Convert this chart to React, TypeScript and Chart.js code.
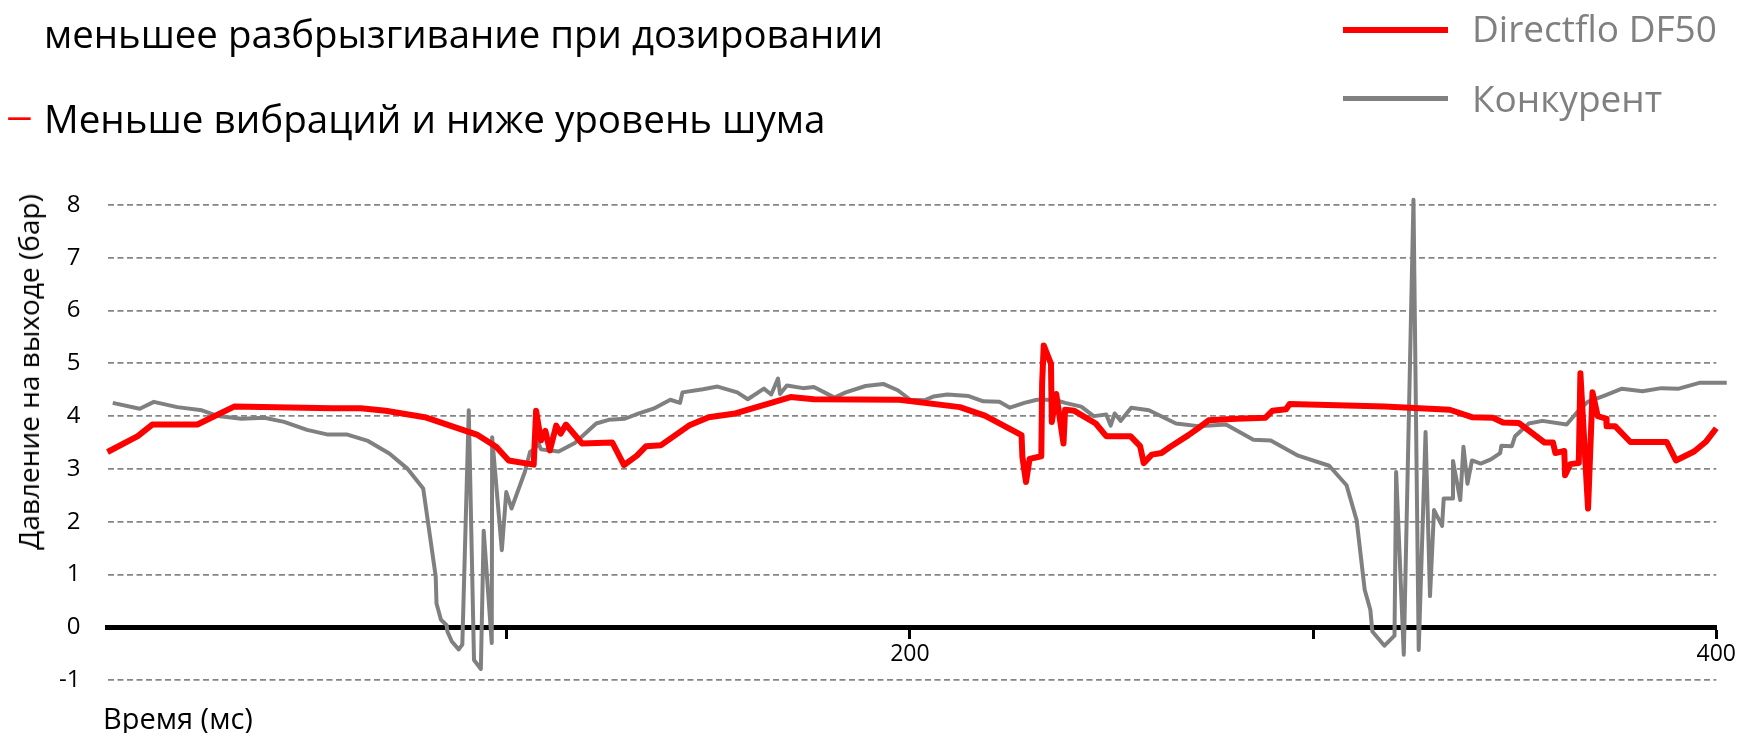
import React, { useEffect, useRef } from 'react';
import { Chart, registerables } from 'chart.js';

Chart.register(...registerables);

// ---- data ----
const seriesNames = ['Directflo DF50', 'Конкурент'];
const seriesColors = ['#ff0000', '#808080'];

const directfloX = [
  1, 8.5, 12.1, 23.3, 32.4, 56.7, 63.8, 70.0, 79.7, 92.6, 97.4, 100.5, 106.7, 107.3, 108.5, 109.6,
  110.7, 112.3, 113.4, 114.7, 118.7, 126.2, 129.1, 132.3, 134.6, 138.3, 145.2, 150.1, 156.7, 165.6,
  170.4, 176.2, 197.4, 212.4, 218.6, 227.7, 227.9, 228.8, 229.7, 232.6, 232.8, 233.2, 235.0, 235.2,
  236.3, 238.1, 238.5, 240.8, 246.1, 248.7, 254.7, 257.1, 258.0, 260.0, 262.4, 264.6, 269.1, 271.5,
  274.1, 280.9, 288.2, 289.9, 293.3, 294.2, 317.7, 333.9, 339.4, 344.6, 347.1, 351.0, 357.4, 359.5,
  360.1, 362.3, 362.5, 363.8, 365.9, 366.3, 368.2, 369.3, 370.6, 372.7, 372.8, 374.9, 378.7, 387.7,
  390.0, 394.5, 397.5, 400.0,
];
const directfloY = [
  3.32, 3.62, 3.84, 3.84, 4.18, 4.15, 4.15, 4.10, 3.98, 3.65, 3.42, 3.16, 3.08, 4.10, 3.54, 3.72,
  3.35, 3.82, 3.67, 3.84, 3.48, 3.50, 3.07, 3.25, 3.43, 3.45, 3.82, 3.98, 4.05, 4.25,
  4.36, 4.32, 4.31, 4.17, 4.01, 3.64, 3.23, 2.75, 3.19, 3.24, 4.61, 5.34, 4.99, 3.89,
  4.42, 3.48, 4.12, 4.10, 3.86, 3.62, 3.62, 3.43, 3.11, 3.27, 3.30, 3.42, 3.64, 3.77,
  3.92, 3.95, 3.97, 4.10, 4.13, 4.23, 4.18, 4.12, 3.98, 3.97, 3.88, 3.87, 3.50, 3.50,
  3.30, 3.34, 2.88, 3.09, 3.11, 4.81, 2.25, 4.45, 4.00, 3.95, 3.81, 3.81, 3.51, 3.51,
  3.16, 3.33, 3.52, 3.77,
];

const competitorX = [
  2.3, 9.0, 12.5, 18.3, 24.4, 28.4, 34.2, 39.9, 44.8, 50.5, 55.7, 60.5, 65.6, 70.9, 75.3, 79.3,
  82.4, 82.6, 83.7, 85.1, 85.3, 86.4, 88.1, 89.0, 90.6, 91.9, 93.6, 94.3, 96.3, 96.4, 98.8, 99.9,
  101.2, 104.5, 105.8, 107.0, 107.8, 108.5, 112.9, 116.9, 122.2, 125.3, 129.3, 132.8, 136.4, 140.6,
  143.0, 143.6, 148.7, 152.3, 157.2, 159.8, 163.8, 165.6, 167.3, 167.8, 169.5, 173.5, 176.2, 178.8,
  181.3, 184.1, 189.0, 193.4, 197.0, 200.1, 203.6, 205.8, 209.3, 214.6, 218.2, 222.2, 224.8, 228.4,
  231.5, 235.9, 238.5, 242.5, 245.6, 248.7, 249.8, 250.8, 252.3, 254.9, 259.3, 266.0, 271.5, 278.4,
  285.2, 289.5, 296.3, 304.0, 308.3, 310.8, 312.8, 314.2, 314.7, 317.7, 320.2, 320.6, 322.5, 324.9,
  326.2, 327.9, 329.0, 330.0, 332.0, 332.4, 334.6, 334.7, 336.5, 337.3, 338.3, 339.4, 341.6, 344.1,
  346.4, 346.7, 349.3, 350.1, 353.5, 356.9, 362.9, 365.9, 368.1, 372.3, 376.6, 381.7, 386.4, 390.7,
  395.8, 402.6, 404.3,
];
const competitorY = [
  4.25, 4.14, 4.27, 4.17, 4.11, 4.00, 3.95, 3.97, 3.89, 3.74, 3.65, 3.65, 3.53, 3.29, 3.01, 2.63,
  0.96, 0.45, 0.14, 0.04, -0.08, -0.27, -0.42, -0.33, 4.11, -0.62, -0.79, 1.83, -0.30, 3.60, 1.46, 2.56,
  2.25, 2.94, 3.32, 3.38, 3.50, 3.37, 3.33, 3.49, 3.86, 3.93, 3.95, 4.05, 4.14, 4.31,
  4.25, 4.45, 4.51, 4.56, 4.45, 4.32, 4.52, 4.41, 4.71, 4.42, 4.58, 4.53, 4.55, 4.45,
  4.35, 4.45, 4.57, 4.61, 4.49, 4.31, 4.30, 4.37, 4.41, 4.38, 4.28, 4.27, 4.16, 4.25,
  4.31, 4.31, 4.25, 4.18, 4.00, 4.03, 3.82, 4.05, 3.91, 4.16, 4.11, 3.86, 3.81, 3.84,
  3.55, 3.54, 3.25, 3.06, 2.69, 2.03, 0.71, 0.33, -0.08, -0.35, -0.16, 2.94, -0.52, 8.10,
  -0.43, 3.70, 0.59, 2.22, 1.92, 2.44, 2.44, 3.15, 2.41, 3.42, 2.72, 3.16, 3.10, 3.18,
  3.30, 3.44, 3.43, 3.62, 3.86, 3.91, 3.84, 4.11, 4.27, 4.39, 4.52, 4.47, 4.53, 4.52,
  4.63, 4.63, 4.68,
];

const xTickValues = [100, 200, 300, 400];
const xTickLabels = ['', '200', '', '400'];
const yTickValues = [-1, 0, 1, 2, 3, 4, 5, 6, 7, 8];

const titleLines = ['меньшее разбрызгивание при дозировании', 'Меньше вибраций и ниже уровень шума'];
const bulletDash = '–';
const yAxisTitle = 'Давление на выходе (бар)';
const xAxisTitle = 'Время (мс)';

const FONT = "'Open Sans', 'DejaVu Sans', sans-serif";

export default function App() {
  const canvasRef = useRef<HTMLCanvasElement | null>(null);

  useEffect(() => {
    const canvas = canvasRef.current;
    if (!canvas) return;
    const toPoints = (xs: number[], ys: number[]) => xs.map((x, i) => ({ x, y: ys[i] }));
    const chart = new Chart(canvas, {
      type: 'line',
      data: {
        datasets: [
          {
            label: seriesNames[0],
            data: toPoints(directfloX, directfloY),
            borderColor: seriesColors[0],
            backgroundColor: seriesColors[0],
            borderWidth: 6,
            pointRadius: 0,
            tension: 0,
            clip: false as any,
            borderJoinStyle: 'round',
          },
          {
            label: seriesNames[1],
            data: toPoints(competitorX, competitorY),
            borderColor: seriesColors[1],
            backgroundColor: seriesColors[1],
            borderWidth: 4,
            pointRadius: 0,
            tension: 0,
            clip: false as any,
            borderJoinStyle: 'round',
          },
        ],
      },
      options: {
        responsive: false,
        animation: false,
        events: [],
        layout: { padding: { left: 0, right: 21, top: 205, bottom: 53 } },
        plugins: {
          legend: { display: false },
          tooltip: { enabled: false },
          title: { display: false },
        },
        scales: {
          x: {
            type: 'linear',
            min: 1,
            max: 400,
            position: { y: 0 } as any,
            afterBuildTicks: (s: any) => {
              s.ticks = xTickValues.map((v) => ({ value: v }));
            },
            ticks: {
              autoSkip: false,
              maxRotation: 0,
              padding: 4,
              color: '#000',
              font: { family: FONT, size: 23 },
              callback: (v: any) => {
                const i = xTickValues.indexOf(Number(v));
                return i >= 0 ? xTickLabels[i] : '';
              },
            },
            grid: {
              drawOnChartArea: false,
              drawTicks: true,
              tickLength: 9,
              tickWidth: 3,
              tickColor: '#000',
            },
            border: { display: true, color: '#000', width: 5 },
          },
          y: {
            type: 'linear',
            min: -1,
            max: 8,
            afterFit: (s: any) => {
              s.width = 107.5;
            },
            afterBuildTicks: (s: any) => {
              s.ticks = yTickValues.map((v) => ({ value: v }));
            },
            ticks: {
              padding: 27,
              color: '#000',
              font: { family: FONT, size: 24 },
            },
            grid: {
              drawTicks: false,
              lineWidth: 1.7,
              color: (c: any) => (c.tick && c.tick.value === 0 ? 'rgba(0,0,0,0)' : '#858585'),
            },
            border: { display: false, dash: [6, 3.5] },
          },
        },
      },
    });
    return () => chart.destroy();
  }, []);

  const abs = (o: React.CSSProperties): React.CSSProperties => ({
    position: 'absolute',
    whiteSpace: 'nowrap',
    margin: 0,
    ...o,
  });

  return (
    <div
      style={{
        position: 'fixed',
        left: 0,
        top: 0,
        width: 1740,
        height: 733,
        background: '#fff',
        overflow: 'hidden',
        fontFamily: FONT,
      }}
    >
      <canvas
        ref={canvasRef}
        width={1740}
        height={733}
        style={{ position: 'absolute', left: 0, top: 0, width: 1740, height: 733 }}
      />
      <div style={abs({ left: 44, top: 14, fontSize: 38.4, lineHeight: '38px', color: '#000' })}>
        {titleLines[0]}
      </div>
      <div
        style={abs({
          left: 6,
          top: 96,
          fontSize: 37,
          lineHeight: '37px',
          color: '#ff0000',
          transform: 'scaleX(1.45)',
          transformOrigin: 'left center',
        })}
      >
        {bulletDash}
      </div>
      <div style={abs({ left: 44, top: 99, fontSize: 38.6, lineHeight: '38px', color: '#000' })}>
        {titleLines[1]}
      </div>

      <div style={abs({ left: 1343, top: 27, width: 105, height: 6, background: seriesColors[0] })} />
      <div style={abs({ left: 1472, top: 9, fontSize: 37, lineHeight: '37px', color: '#808080' })}>
        {seriesNames[0]}
      </div>
      <div style={abs({ left: 1343, top: 96, width: 105, height: 4.5, background: seriesColors[1] })} />
      <div style={abs({ left: 1472, top: 79, fontSize: 37, lineHeight: '37px', color: '#808080' })}>
        {seriesNames[1]}
      </div>

      <div
        style={abs({
          left: 28,
          top: 372,
          fontSize: 28,
          lineHeight: '28px',
          color: '#000',
          transform: 'translate(-50%, -50%) rotate(-90deg)',
        })}
      >
        {yAxisTitle}
      </div>
      <div style={abs({ left: 103, top: 703, fontSize: 29, lineHeight: '29px', color: '#000' })}>
        {xAxisTitle}
      </div>
    </div>
  );
}
